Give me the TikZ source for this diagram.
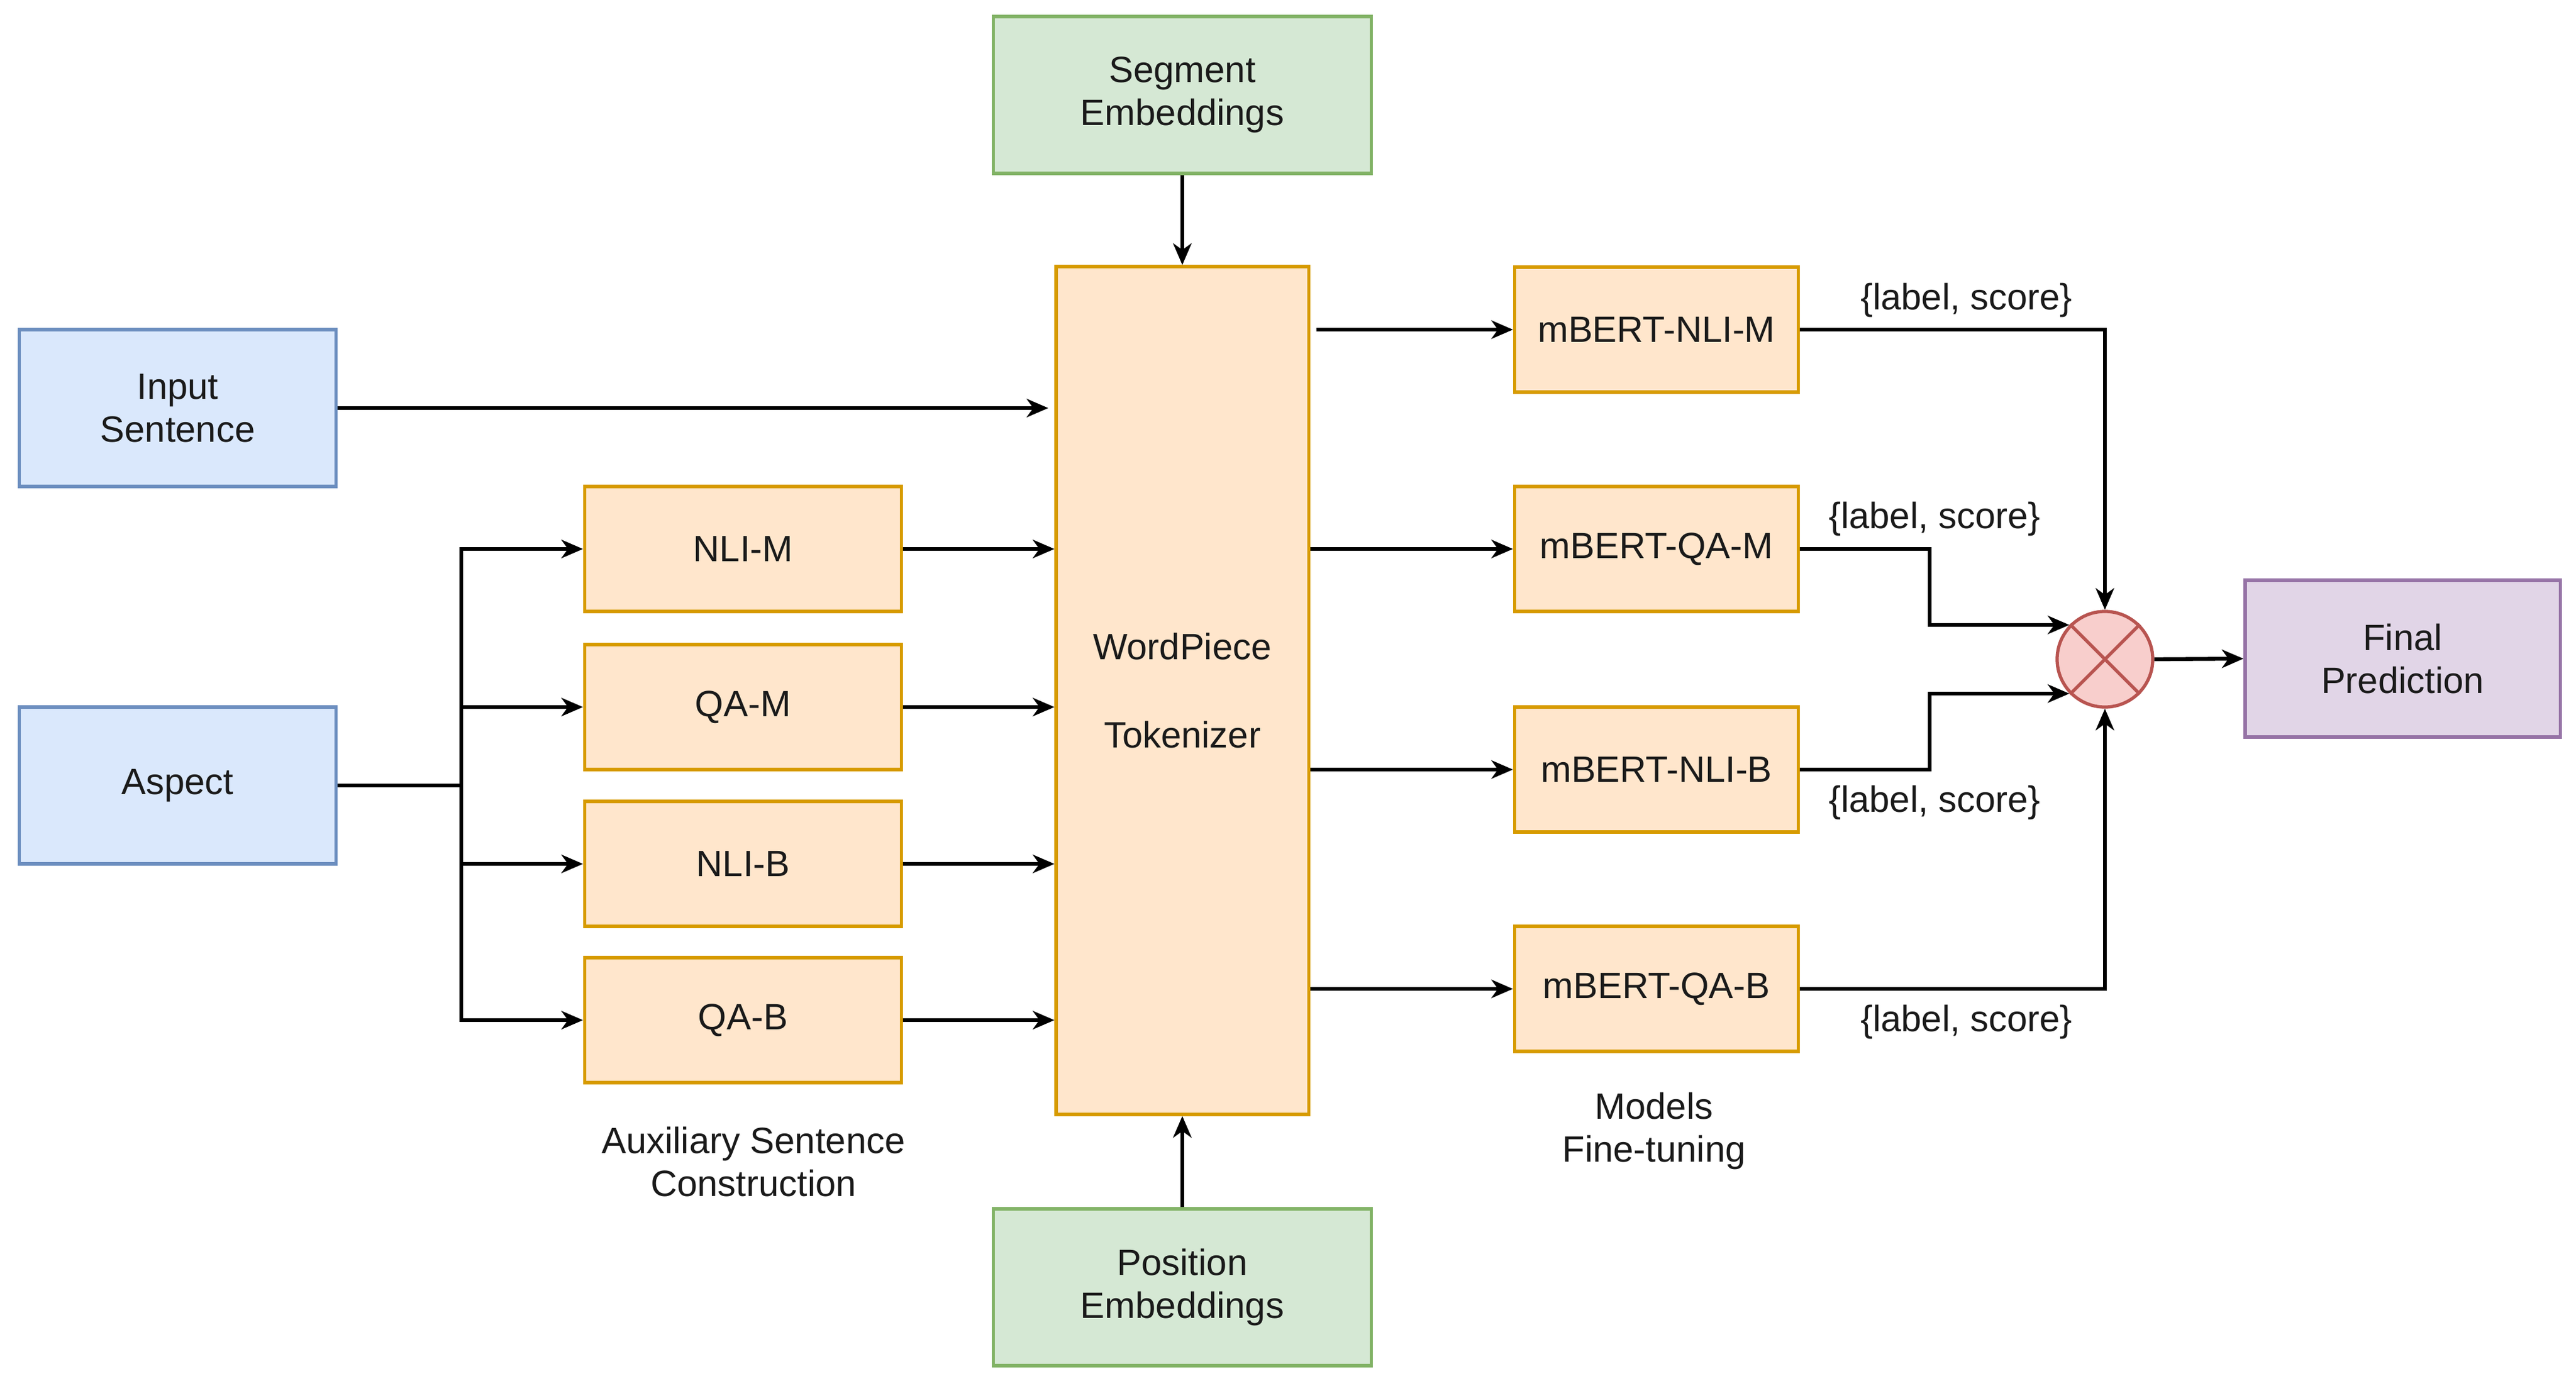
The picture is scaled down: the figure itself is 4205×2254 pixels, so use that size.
\documentclass[tikz,border=0pt]{standalone}
\usepackage{fontspec}
\setmainfont{Liberation Sans}
\usetikzlibrary{arrows.meta}
\definecolor{bluefill}{HTML}{DAE8FC}\definecolor{bluedraw}{HTML}{6C8EBF}
\definecolor{orfill}{HTML}{FFE6CC}\definecolor{ordraw}{HTML}{D79B00}
\definecolor{grfill}{HTML}{D5E8D4}\definecolor{grdraw}{HTML}{82B366}
\definecolor{pufill}{HTML}{E1D5E7}\definecolor{pudraw}{HTML}{9673A6}
\definecolor{rdfill}{HTML}{F8CECC}\definecolor{rddraw}{HTML}{B85450}
\definecolor{txt}{HTML}{1A1A1A}
\tikzset{
  box/.style={draw, line width=1.5pt, align=center, inner sep=0pt, text=txt},
  bluebox/.style={box, fill=bluefill, draw=bluedraw, minimum width=5.17cm, minimum height=2.56cm},
  auxbox/.style={box, fill=orfill, draw=ordraw, minimum width=5.17cm, minimum height=2.04cm},
  modbox/.style={box, fill=orfill, draw=ordraw, minimum width=4.63cm, minimum height=2.04cm},
  embbox/.style={box, fill=grfill, draw=grdraw, minimum width=6.16cm, minimum height=2.56cm},
  arr/.style={line width=1.8pt, -{Stealth[length=10pt, width=8.5pt, inset=3pt]}},
  ln/.style={line width=1.8pt},
  lbl/.style={align=center, inner sep=0pt, text=txt},
}
\begin{document}
\begin{tikzpicture}[x=0.01cm, y=-0.01cm, font=\fontsize{17}{20}\selectfont]
\useasboundingbox (0,0) rectangle (4205,2254);
% left inputs
\node[bluebox] (inp) at (290,666) {Input\\Sentence};
\node[bluebox] (asp) at (290,1282) {Aspect};
% auxiliary boxes
\node[auxbox] (nlim) at (1213,896) {NLI-M};
\node[auxbox] (qam) at (1213,1154) {QA-M};
\node[auxbox] (nlib) at (1213,1410) {NLI-B};
\node[auxbox] (qab) at (1213,1665) {QA-B};
\node[lbl] (auxlbl) at (1230,1896) {Auxiliary Sentence\\Construction};
% tokenizer
\node[box, fill=orfill, draw=ordraw, minimum width=4.12cm, minimum height=13.83cm] (wp) at (1930,1127) {WordPiece\\[0.73cm]Tokenizer};
\node[embbox] (seg) at (1930,155) {Segment\\Embeddings};
\node[embbox] (pos) at (1930,2101) {Position\\Embeddings};
% models
\node[modbox] (mnlim) at (2704,538) {mBERT-NLI-M};
\node[modbox] (mqam) at (2704,896) {mBERT-QA-M};
\node[modbox] (mnlib) at (2704,1256) {mBERT-NLI-B};
\node[modbox] (mqab) at (2704,1614) {mBERT-QA-B};
\node[lbl] (modlbl) at (2700,1846) {Models\\Fine-tuning};
% combine
\node[circle, draw=rddraw, fill=rdfill, line width=1.5pt, minimum size=1.56cm, inner sep=0pt] (circ) at (3436,1076) {};
\draw[rddraw, line width=1.5pt] (circ.45) -- (circ.225) (circ.135) -- (circ.315);
\node[box, fill=pufill, draw=pudraw, minimum width=5.14cm, minimum height=2.56cm] (fin) at (3922,1075) {Final\\Prediction};
% connectors left
\draw[arr] (inp.east) -- ([xshift=-0.1cm]inp.east -| wp.west);
\coordinate (fan) at (753,1282);
\draw[ln] (asp.east) -- (fan);
\draw[arr] (fan) |- (nlim.west);
\draw[arr] (fan) |- (qam.west);
\draw[arr] (fan) |- (nlib.west);
\draw[arr] (fan) |- (qab.west);
\foreach \n in {nlim,qam,nlib,qab} \draw[arr] (\n.east) -- (\n.east -| wp.west);
\draw[arr] (seg.south) -- (wp.north);
\draw[arr] (pos.north) -- (wp.south);
% tokenizer to models
\draw[arr] ([xshift=0.1cm]mnlim.west -| wp.east) -- (mnlim.west);
\foreach \n in {mqam,mnlib,mqab} \draw[arr] (\n.west -| wp.east) -- (\n.west);
% models to combine
\draw[arr] (mnlim.east) -| (circ.north);
\draw[arr] (mqab.east) -| (circ.south);
\draw[arr] (mqam.east) -- ++(212,0) |- (circ.136);
\draw[arr] (mnlib.east) -- ++(212,0) |- (circ.224);
\draw[arr] (circ.east) -- (fin.west);
% labels
\node[lbl] (l1) at (3210,490) {\{label, score\}};
\node[lbl] (l2) at (3158,847) {\{label, score\}};
\node[lbl] (l3) at (3158,1310) {\{label, score\}};
\node[lbl] (l4) at (3210,1668) {\{label, score\}};
\end{tikzpicture}
\end{document}
